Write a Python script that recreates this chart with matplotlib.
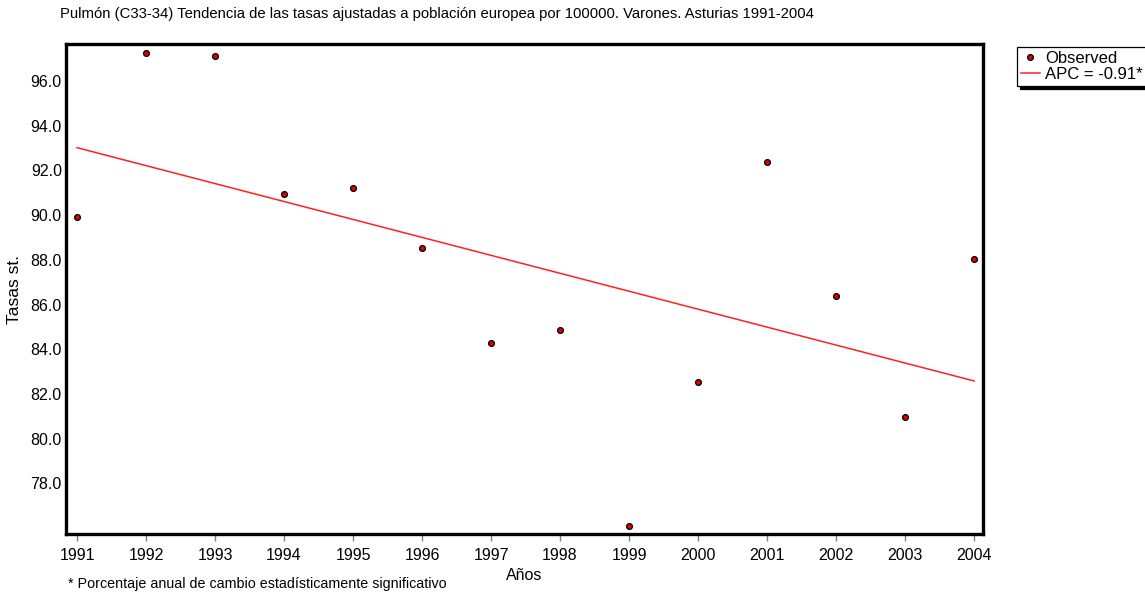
import matplotlib
matplotlib.use("Agg")
import matplotlib.pyplot as plt

# observed standardized rates (men, Asturias)
years = [1991, 1992, 1993, 1994, 1995, 1996, 1997, 1998, 1999, 2000, 2001, 2002, 2003, 2004]
rates = [89.9, 97.27, 97.14, 90.96, 91.23, 88.53, 84.3, 84.87, 76.08, 82.53, 92.39, 86.36, 80.98, 88.06]

# fitted trend (APC = -0.91)
trend_years = [1991, 2004]
trend_rates = [93.02, 82.58]

yticks = [78, 80, 82, 84, 86, 88, 90, 92, 94, 96]

title = "Pulmón (C33-34) Tendencia de las tasas ajustadas a población europea por 100000. Varones. Asturias 1991-2004"
footnote = "* Porcentaje anual de cambio estadísticamente significativo"

plt.rcParams['font.family'] = ['Liberation Sans', 'DejaVu Sans']

fig = plt.figure(figsize=(11.45, 5.95), dpi=100)
ax = fig.add_axes([66/1145, 1-534/595, (983-66)/1145, (534-44)/595])

ax.plot(trend_years, trend_rates, color='#ff2020', lw=1.1, label='APC = -0.91*')
ax.plot(years, rates, linestyle='none', marker='o', ms=4.2, mfc='#e00000', mec='black',
        mew=0.9, label='Observed')

ax.set_xlim(1990.84, 2004.13)
ax.set_ylim(75.73, 97.66)
ax.set_xticks(years)
ax.set_xticklabels([str(y) for y in years], fontsize=11.5)
ax.set_yticks(yticks)
ax.set_yticklabels(['%.1f' % v for v in yticks], fontsize=11.5)
ax.tick_params(axis='x', length=5, width=1, color='#808080', pad=5)
ax.tick_params(axis='y', length=0, pad=3)
for s in ax.spines.values():
    s.set_linewidth(2.4)
    s.set_color('black')

ax.set_xlabel('Años', fontsize=11.5)
ax.xaxis.set_label_coords(0.5, -0.07)
ax.set_ylabel('Tasas st.', fontsize=12.5)
ax.yaxis.set_label_coords(-0.048, 0.5)

fig.text(60/1145, 1-14/595, title, fontsize=10.7, va='center', ha='left')
fig.text(68/1145, 1-584/595, footnote, fontsize=10.3, va='center', ha='left')

h, l = ax.get_legend_handles_labels()
leg = ax.legend(h[::-1], l[::-1], loc='upper left', bbox_to_anchor=(1017/1145, 1-47/595),
                bbox_transform=fig.transFigure, fontsize=12, frameon=True, fancybox=False,
                shadow={'color': 'black', 'alpha': 1}, borderpad=0.25, handlelength=1.1,
                handletextpad=0.35, labelspacing=0.05, borderaxespad=0, framealpha=1)
leg.get_frame().set_edgecolor('black')
leg.get_frame().set_linewidth(0.9)

fig.savefig('out.png', dpi=100)
